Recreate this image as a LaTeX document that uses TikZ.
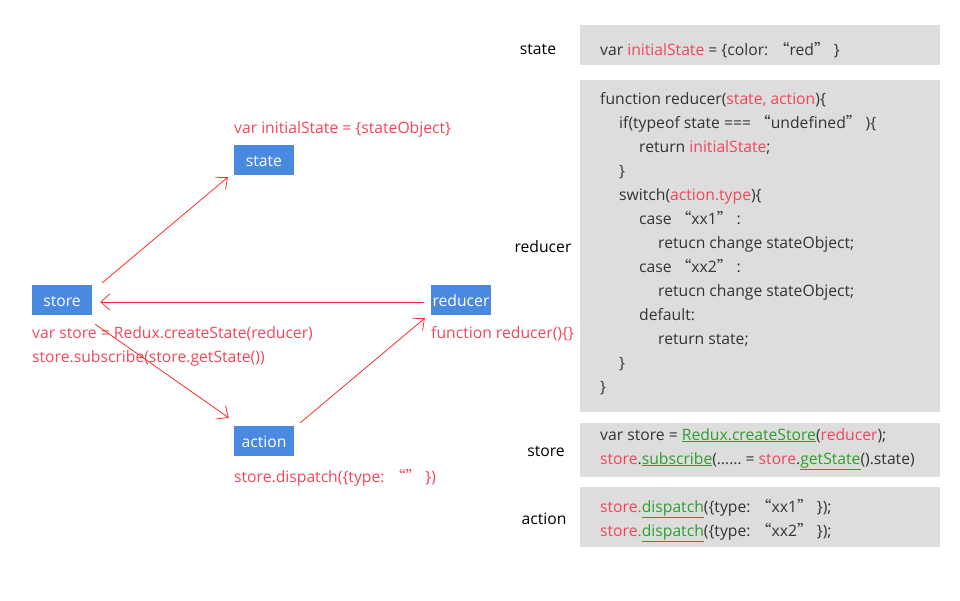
\documentclass[tikz,border=0pt]{standalone}
\usepackage{fontspec}
\setmainfont{Open Sans}
\newfontfamily\cjk{Noto Sans CJK SC}
\usetikzlibrary{arrows.meta,positioning}
\definecolor{boxblue}{HTML}{4A89E0}
\definecolor{notered}{HTML}{F2465A}
\definecolor{arrowred}{HTML}{FF2A2A}
\definecolor{codegray}{HTML}{DDDDDD}
\definecolor{codetext}{HTML}{333333}
\definecolor{apigreen}{HTML}{2E9E2E}
\newcommand{\hl}[1]{\textcolor{notered}{#1}}
\newcommand{\api}[1]{\textcolor{apigreen}{\underline{#1}}}
\newcommand{\oq}{{\cjk “}}
\newcommand{\cq}{{\cjk ”}}
\begin{document}
\begin{tikzpicture}[
    x=1pt, y=-1pt,
    >={Straight Barb[length=9pt,width=16pt]},
    every node/.style={font=\fontsize{15.7}{18}\selectfont, text height=13pt, text depth=1pt},
    part/.style={
        rectangle,
        fill=boxblue,
        text=white,
        minimum width=60pt,
        minimum height=30pt,
        inner sep=0pt
    },
    note/.style={anchor=west, text=notered, inner sep=0pt},
    flow/.style={->, arrowred, line width=0.8pt},
    codebox/.style={
        rectangle,
        fill=codegray,
        anchor=north west,
        minimum width=360pt,
        inner sep=0pt
    },
    code/.style={anchor=west, text=codetext, inner sep=0pt},
    tag/.style={text=black, inner sep=0pt}
]
    \useasboundingbox (0,0) rectangle (960,600);

    % === LEFT SIDE: DATA FLOW ===
    \node[part] (state) at (264,160) {state};
    \node[part] (store) at (62,300) {store};
    \node[part] (reducer) at (461,300) {reducer};
    \node[part] (action) at (264,441) {action};

    % Notes under and over the parts
    \node[note] (statenote) at (234,127) {var initialState = \{stateObject\}};
    \node[note] (storenote1) at (32,332) {var store = Redux.createState(reducer)};
    \node[note] (storenote2) at (32,356) {store.subscribe(store.getState())};
    \node[note] (reducernote) at (431,332) {function reducer()\{\}};
    \node[note] (actionnote) at (234,476) {store.dispatch(\{type: \oq\cq\ \})};

    % Arrows between parts
    \draw[flow] ([shift={(10,-2)}]store.north east) -- ([shift={(-6,2)}]state.south west);
    \draw[flow] ([shift={(-7,2)}]reducer.west) -- ([shift={(8,2)}]store.east);
    \draw[flow] ([shift={(3,9)}]store.south east) -- ([shift={(-5,-8)}]action.north west);
    \draw[flow] ([shift={(6,-3)}]action.north east) -- ([shift={(-6,3)}]reducer.south west);

    % === RIGHT SIDE: CODE ===
    \node[tag] (statetag) at (538,48) {state};
    \node[tag] (reducertag) at (543,246) {reducer};
    \node[tag] (storetag) at (546,450) {store};
    \node[tag] (actiontag) at (544,518) {action};

    \node[codebox, minimum height=40pt] (statecode) at (580,25) {};
    \node[codebox, minimum height=332pt] (reducercode) at (580,80) {};
    \node[codebox, minimum height=54pt] (storecode) at (580,423) {};
    \node[codebox, minimum height=60pt] (actioncode) at (580,487) {};

    % state code
    \node[code] (line49) at (600,49) {var \hl{initialState} = \{color: \oq red\cq\ \}};

    % reducer code
    \foreach \x/\y/\txt in {
        600/98/{function reducer(\hl{state, action})\{},
        619/122/{if(typeof state === \oq undefined\cq\ )\{},
        639/146/{return \hl{initialState};},
        619/170/{\}},
        619/194/{switch(\hl{action.type})\{},
        639/218/{case \oq xx1\cq\ :},
        658/242/{retucn change stateObject;},
        639/266/{case \oq xx2\cq\ :},
        658/290/{retucn change stateObject;},
        639/314/{default:},
        658/338/{return state;},
        619/362/{\}},
        600/386/{\}}
    }
        \node[code] (line\y) at (\x,\y) {\txt};

    % store code
    \node[code] (line434) at (600,434) {var store = \api{Redux.createStore}(\hl{reducer});};
    \node[code] (line458) at (600,458) {\hl{store}.\api{subscribe}(\dots\dots{} = \hl{store}.\api{getState}().state)};

    % action code
    \node[code] (line506) at (600,506) {\hl{store.}\api{dispatch}(\{type: \oq xx1\cq\ \});};
    \node[code] (line530) at (600,530) {\hl{store.}\api{dispatch}(\{type: \oq xx2\cq\ \});};
\end{tikzpicture}
\end{document}
